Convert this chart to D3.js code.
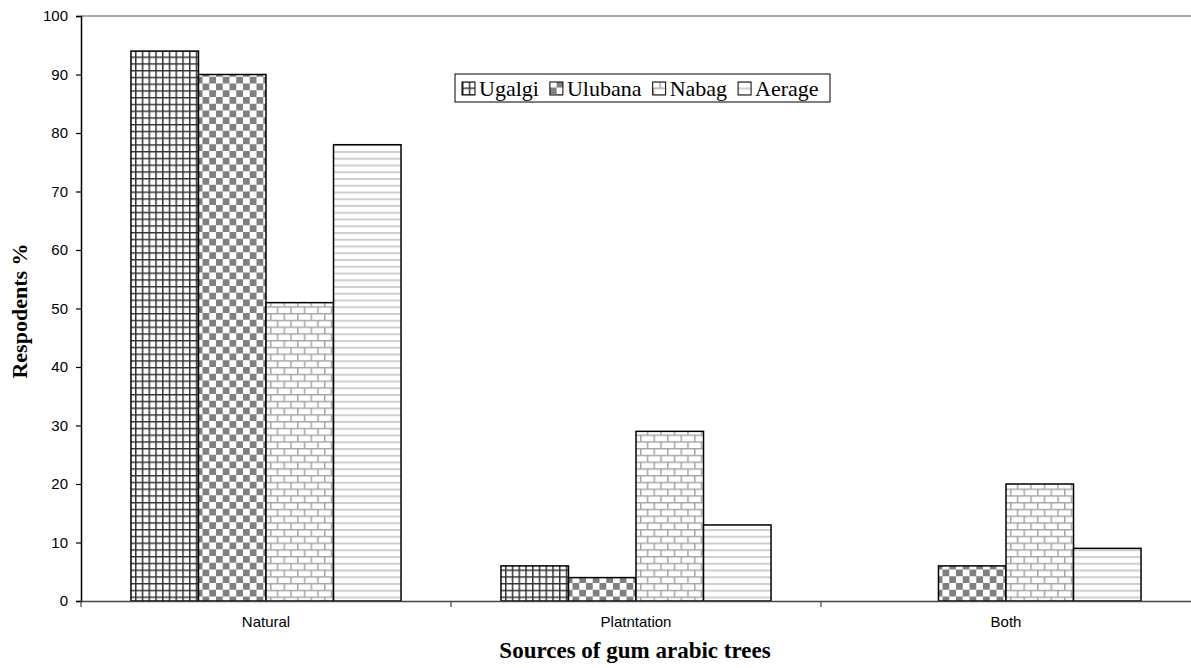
<!DOCTYPE html>
<html>
<head>
<meta charset="utf-8">
<script src="https://cdn.jsdelivr.net/npm/d3@7/dist/d3.min.js"></script>
<style>
  body { margin: 0; background: #fff; }
  svg { display: block; }
</style>
</head>
<body>
<div id="chart"></div>
<script>
// data
var categories = ['Natural', 'Platntation', 'Both'];
var series = ['Ugalgi', 'Ulubana', 'Nabag', 'Aerage'];
var ugalgi = [94, 6, 0];
var ulubana = [90, 4, 6];
var nabag = [51, 29, 20];
var aerage = [78, 13, 9];
var yTicks = [0, 10, 20, 30, 40, 50, 60, 70, 80, 90, 100];

var values = [ugalgi, ulubana, nabag, aerage];

var W = 1191, H = 668;
var margin = {top: 16, right: 0, bottom: 67, left: 81};
var width = W - margin.left - margin.right;
var height = H - margin.top - margin.bottom;

var svg = d3.select('#chart')
    .append('svg')
    .attr('width', W)
    .attr('height', H);

// fill patterns, like the old excel ones
var defs = svg.append('defs');
var s = 6.75;

var p1 = defs.append('pattern').attr('id', 'pat0')
    .attr('patternUnits', 'userSpaceOnUse')
    .attr('width', s).attr('height', s);
p1.append('rect').attr('width', s).attr('height', s).attr('fill', '#fff');
p1.append('path').attr('d', `M0,0.75H${s}M0.75,0V${s}`)
    .attr('stroke', '#333').attr('stroke-width', 1.5);

var p2 = defs.append('pattern').attr('id', 'pat1')
    .attr('patternUnits', 'userSpaceOnUse')
    .attr('width', 2 * s).attr('height', 2 * s);
p2.append('rect').attr('width', 2 * s).attr('height', 2 * s).attr('fill', '#fff');
p2.append('rect').attr('width', s).attr('height', s).attr('fill', '#808080');
p2.append('rect').attr('x', s).attr('y', s).attr('width', s).attr('height', s).attr('fill', '#808080');

var p3 = defs.append('pattern').attr('id', 'pat2')
    .attr('patternUnits', 'userSpaceOnUse')
    .attr('width', 2 * s).attr('height', 2 * s);
p3.append('rect').attr('width', 2 * s).attr('height', 2 * s).attr('fill', '#fff');
p3.append('path')
    .attr('d', `M0,0.75H${2 * s}M0,${s + 0.75}H${2 * s}M0.75,0V${s}M${s + 0.75},${s}V${2 * s}`)
    .attr('stroke', '#a6a6a6').attr('stroke-width', 1.5);

var p4 = defs.append('pattern').attr('id', 'pat3')
    .attr('patternUnits', 'userSpaceOnUse')
    .attr('width', s).attr('height', s);
p4.append('rect').attr('width', s).attr('height', s).attr('fill', '#fff');
p4.append('path').attr('d', `M0,1H${s}`)
    .attr('stroke', '#cfcfcf').attr('stroke-width', 2);

var g = svg.append('g')
    .attr('transform', `translate(${margin.left},${margin.top})`);

var x = d3.scaleBand()
    .domain(categories)
    .range([0, width])
    .padding(0);

var x1 = d3.scaleBand()
    .domain(series)
    .range([0, x.bandwidth()])
    .paddingInner(0)
    .paddingOuter(0.74);

var y = d3.scaleLinear()
    .domain([0, 100])
    .range([height, 0]);

// top frame line
g.append('line')
    .attr('x1', 0).attr('x2', width)
    .attr('y1', y(100)).attr('y2', y(100))
    .attr('stroke', '#8c8c8c').attr('stroke-width', 1.5);

// bars
var groups = g.selectAll('.grp')
    .data(categories)
    .enter()
    .append('g')
    .attr('class', 'grp')
    .attr('transform', function(d) { return `translate(${x(d)},0)`; });

groups.selectAll('rect')
    .data(function(d, ci) {
        return series.map(function(k, si) {
            return {key: k, i: si, v: values[si][ci]};
        }).filter(function(e) { return e.v > 0; });
    })
    .enter()
    .append('rect')
    .attr('x', function(d) { return x1(d.key); })
    .attr('y', function(d) { return y(d.v); })
    .attr('width', x1.bandwidth())
    .attr('height', function(d) { return height - y(d.v); })
    .attr('fill', function(d) { return `url(#pat${d.i})`; })
    .attr('stroke', '#000')
    .attr('stroke-width', 1.5);

// y axis
var yAxis = d3.axisLeft(y)
    .tickValues(yTicks)
    .tickSize(5)
    .tickPadding(8);

var ya = g.append('g').call(yAxis);
ya.select('.domain').attr('stroke', '#000').attr('stroke-width', 1.5);
ya.selectAll('.tick line').attr('stroke', '#000').attr('stroke-width', 1.2);
ya.selectAll('text')
    .attr('font-family', 'Liberation Sans, Arial, sans-serif')
    .attr('font-size', 15)
    .attr('fill', '#000');

// x axis
var xAxis = d3.axisBottom(x)
    .tickSize(0)
    .tickPadding(15);

var xa = g.append('g')
    .attr('transform', `translate(0,${height})`)
    .call(xAxis);
xa.select('.domain').attr('stroke', '#444').attr('stroke-width', 1.5);
xa.selectAll('text')
    .attr('font-family', 'Liberation Sans, Arial, sans-serif')
    .attr('font-size', 15)
    .attr('fill', '#000');

// little ticks between categories
xa.selectAll('.sep')
    .data(categories)
    .enter()
    .append('line')
    .attr('class', 'sep')
    .attr('x1', function(d) { return x(d); })
    .attr('x2', function(d) { return x(d); })
    .attr('y1', 0).attr('y2', 6)
    .attr('stroke', '#444').attr('stroke-width', 1.2);

// axis titles
svg.append('text')
    .attr('x', margin.left + width / 2 - 1)
    .attr('y', 658)
    .attr('text-anchor', 'middle')
    .attr('font-family', 'Liberation Serif, Times New Roman, serif')
    .attr('font-weight', 'bold')
    .attr('font-size', 23)
    .text('Sources of gum arabic trees');

svg.append('text')
    .attr('transform', 'translate(27,311) rotate(-90)')
    .attr('text-anchor', 'middle')
    .attr('font-family', 'Liberation Serif, Times New Roman, serif')
    .attr('font-weight', 'bold')
    .attr('font-size', 22)
    .text('Respodents %');

// legend
var legend = svg.append('g').attr('transform', 'translate(455,74)');
legend.append('rect')
    .attr('width', 375).attr('height', 28)
    .attr('fill', '#fff').attr('stroke', '#000').attr('stroke-width', 1);

var items = legend.selectAll('.item')
    .data(series)
    .enter()
    .append('g')
    .attr('class', 'item');

items.append('rect')
    .attr('y', 8).attr('width', 13).attr('height', 13)
    .attr('fill', function(d, i) { return `url(#pat${i})`; })
    .attr('stroke', '#000').attr('stroke-width', 1);

items.append('text')
    .attr('x', 17).attr('y', 21.5)
    .attr('font-family', 'Liberation Serif, Times New Roman, serif')
    .attr('font-size', 22)
    .text(function(d) { return d; });

var off = 7;
items.each(function() {
    var w = this.getBBox().width;
    d3.select(this).attr('transform', `translate(${off},0)`);
    off += w + 11;
});
</script>
</body>
</html>
